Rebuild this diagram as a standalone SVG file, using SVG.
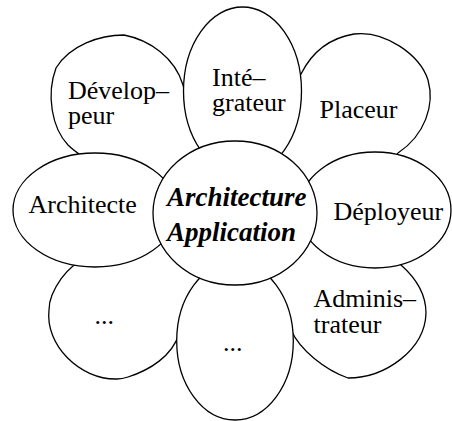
<svg xmlns="http://www.w3.org/2000/svg" width="452" height="421" viewBox="0 0 452 421">
<style>
.s{fill:#fff;stroke:#000;stroke-width:1.3;stroke-linejoin:round}
.t{font-family:"Liberation Serif","Times New Roman",serif;font-size:26px;fill:#000}
.c{font-family:"Liberation Serif","Times New Roman",serif;font-size:27px;font-weight:bold;font-style:italic;fill:#000}
</style>
<rect width="452" height="421" fill="#fff"/>
<g id="connectors"></g>
<g id="developpeur">
<path class="s" d="M 124 35 C 150 40 175 58 183 85 Q 185 92 186 100 L 215 145 L 200 175 L 150 195 L 110 170 L 82 156 C 76 152 72 149 68 145 C 52 128 46 95 56 68 C 70 45 100 35 124 35 Z"/>
<text class="t" x="68" y="99">Dévelop–</text>
<text class="t" x="68" y="124">peur</text>
</g>
<g id="placeur">
<path class="s" d="M 354 34 C 385 30 420 55 428 80 C 435 105 425 135 398 153 L 396 156 L 380 175 L 300 200 L 260 150 L 280 100 L 301 74 C 312 52 330 38 354 34 Z"/>
<text class="t" x="319.5" y="118">Placeur</text>
</g>
<g id="autre1">
<path class="s" d="M 49 310 C 45 345 80 380 117 379 C 122 379 125 378 128 377 C 150 370 172 356 179 334 L 205 300 L 215 280 L 165 230 L 100 250 L 73 266 C 62 275 55 288 52 295 C 50 300 49 305 49 310 Z"/>
<text class="t" x="94.5" y="324">...</text>
</g>
<g id="administrateur">
<path class="s" d="M 348 378 C 385 378 425 350 426 313 C 426 297 418 280 401 265 L 395 258 L 320 230 L 280 260 L 250 270 L 270 300 L 291 330 C 300 350 325 370 348 378 Z"/>
<text class="t" x="313.5" y="307">Adminis–</text>
<text class="t" x="313.5" y="333">trateur</text>
</g>
<g id="integrateur">
<ellipse class="s" cx="242.5" cy="91" rx="59" ry="84"/>
<text class="t" x="212" y="86">Inté–</text>
<text class="t" x="212" y="111">grateur</text>
</g>
<g id="deployeur">
<ellipse class="s" cx="375" cy="210" rx="76" ry="58"/>
<text class="t" x="333.5" y="220">Déployeur</text>
</g>
<g id="autre2">
<ellipse class="s" cx="235" cy="341" rx="58.3" ry="79"/>
<text class="t" x="223" y="350.5">...</text>
</g>
<g id="architecte">
<ellipse class="s" cx="95" cy="210" rx="82" ry="57"/>
<text class="t" x="28.5" y="213">Architecte</text>
</g>
<g id="centre">
<ellipse class="s" cx="235" cy="213" rx="82" ry="72"/>
<text class="c" x="167" y="206">Architecture</text>
<text class="c" x="167" y="241">Application</text>
</g>
</svg>
